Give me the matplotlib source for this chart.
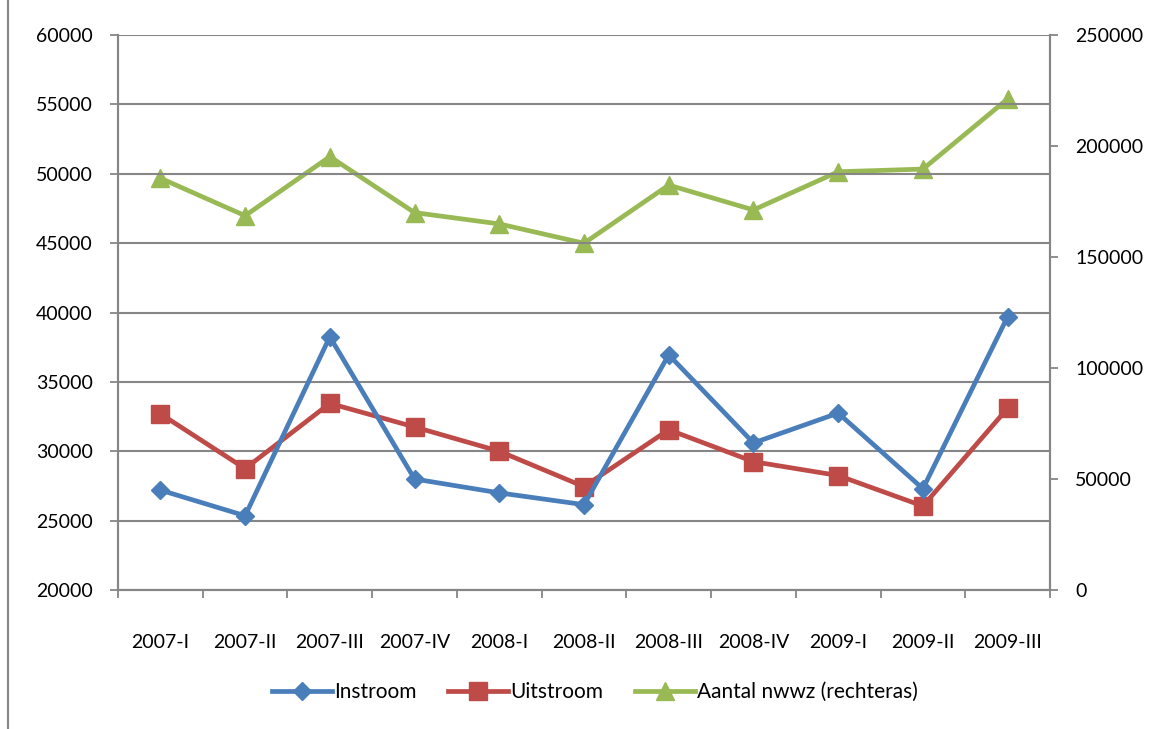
import matplotlib.pyplot as plt
from matplotlib.lines import Line2D

quarters = ["2007-I", "2007-II", "2007-III", "2007-IV", "2008-I", "2008-II",
            "2008-III", "2008-IV", "2009-I", "2009-II", "2009-III"]
instroom = [27200, 25350, 38250, 28000, 27000, 26150, 36950, 30600, 32750, 27300, 39700]
uitstroom = [32700, 28750, 33450, 31750, 30000, 27450, 31550, 29250, 28250, 26050, 33100]
aantal_nwwz = [185500, 168600, 195200, 170000, 164900, 156200, 182400, 171200, 188400, 189600, 221200]

plt.rcParams["font.family"] = ["Lato", "DejaVu Sans"]
plt.rcParams["font.size"] = 14

grey = "#868686"
blue = "#4A7EBB"
red = "#BE4B48"
green = "#98B954"

fig = plt.figure(figsize=(11.67, 7.29), dpi=100)
ax = fig.add_axes([118 / 1167, 1 - 590 / 729, (1050 - 118) / 1167, (590 - 35) / 729])
ax2 = ax.twinx()

x = list(range(len(quarters)))
ax.plot(x, instroom, color=blue, lw=3.4, marker="D", ms=9, zorder=4)
ax.plot(x, uitstroom, color=red, lw=3.4, marker="s", ms=13, zorder=3)
ax2.plot(x, aantal_nwwz, color=green, lw=3.4, marker="^", ms=13)

ax.set_zorder(ax2.get_zorder() + 1)
ax.patch.set_visible(False)

ax.set_ylim(20000, 60000)
ax.set_yticks(range(20000, 60001, 5000))
ax2.set_ylim(0, 250000)
ax2.set_yticks(range(0, 250001, 50000))
ax.set_xlim(-0.5, len(quarters) - 0.5)

ax.set_xticks(x)
ax.set_xticklabels(quarters)
ax.set_xticks([i - 0.5 for i in range(len(quarters) + 1)], minor=True)
ax.tick_params(axis="x", which="major", length=0, pad=32)
ax.tick_params(axis="x", which="minor", length=6, color=grey, width=1.3)
ax.tick_params(axis="y", length=6, color=grey, width=1.3, pad=12)
ax2.tick_params(axis="y", length=6, color=grey, width=1.3, pad=12)

ax.yaxis.grid(True, color=grey, lw=1.5)
ax.set_axisbelow(True)

for a in (ax, ax2):
    a.spines["top"].set_visible(False)
    for s in ["left", "right", "bottom"]:
        a.spines[s].set_color(grey)
        a.spines[s].set_linewidth(1.5)

handles = [
    Line2D([], [], color=blue, lw=3.4, marker="D", ms=9),
    Line2D([], [], color=red, lw=3.4, marker="s", ms=13),
    Line2D([], [], color=green, lw=3.4, marker="^", ms=13),
]
fig.legend(handles, ["Instroom", "Uitstroom", "Aantal nwwz (rechteras)"],
           loc="center", bbox_to_anchor=(595 / 1167, 1 - 692 / 729), ncol=3,
           frameon=False, handlelength=2.9, handletextpad=0.1, columnspacing=1.5,
           fontsize=15)

fig.add_artist(Line2D([8 / 1167, 8 / 1167], [0, 1], color=grey, lw=1.5))

fig.savefig("out.png", dpi=100)
